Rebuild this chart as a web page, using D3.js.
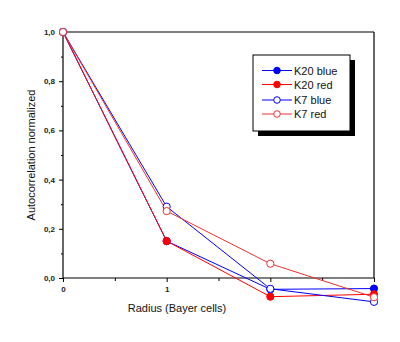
<!DOCTYPE html>
<html><head><meta charset="utf-8">
<script src="https://cdn.jsdelivr.net/npm/d3@7"></script>
<style>body{margin:0;background:#fff;} svg{display:block;font-family:Arial,"Liberation Sans",sans-serif;}</style>
</head><body>
<svg id="c" width="400" height="342"></svg>
<script>
const radius = [0, 1, 2, 3];
const k20Blue = [1.0, 0.15, -0.046, -0.043];
const k20Red = [1.0, 0.15, -0.076, -0.066];
const k7Blue = [1.0, 0.29, -0.044, -0.097];
const k7Red = [1.0, 0.272, 0.058, -0.078];
const seriesNames = ["K20 blue", "K20 red", "K7 blue", "K7 red"];
const xTicks = [0, 1, 2, 3];
const yTicks = [0, 0.2, 0.4, 0.6, 0.8, 1.0];

const series = [
  {name: seriesNames[0], values: k20Blue, color: "#0000ff", filled: true},
  {name: seriesNames[1], values: k20Red, color: "#ff0000", filled: true},
  {name: seriesNames[2], values: k7Blue, color: "#0000ff", filled: false},
  {name: seriesNames[3], values: k7Red, color: "#f03030", filled: false}
];

const svg = d3.select("#c");
const x = d3.scaleLinear().domain([0, 3]).range([63, 374]);
const y = d3.scaleLinear().domain([0, 1]).range([278, 32]);
const fmt = d => d3.format(".1f")(d).replace(".", ",");

// frame top & right
svg.append("line").attr("x1", x(0)).attr("x2", x(3)).attr("y1", y(1)).attr("y2", y(1)).attr("stroke", "#000").attr("stroke-width", 1.2);
svg.append("line").attr("x1", x(3)).attr("x2", x(3)).attr("y1", y(1)).attr("y2", y(0)).attr("stroke", "#000").attr("stroke-width", 1.2);

// minor ticks
const gx = svg.append("g").attr("transform", `translate(0,${y(0)})`);
gx.call(d3.axisBottom(x).tickValues([0.5, 1.5, 2.5]).tickSize(3).tickFormat(""));
gx.call(g => g.select(".domain").remove());
const gxm = svg.append("g").attr("transform", `translate(0,${y(0)})`)
  .call(d3.axisBottom(x).tickValues(xTicks).tickSize(4).tickPadding(4).tickFormat(d3.format("d")));
gxm.select(".domain").attr("d", `M${x(0)},0H${x(3)}`).attr("stroke-width", 1.2);
gxm.selectAll("text").attr("font-size", 8).attr("font-weight", "bold").attr("fill", "#222");

const gy = svg.append("g").attr("transform", `translate(${x(0)},0)`);
gy.call(d3.axisLeft(y).tickValues([0.1, 0.3, 0.5, 0.7, 0.9]).tickSize(2).tickFormat(""));
gy.call(g => g.select(".domain").remove());
const gym = svg.append("g").attr("transform", `translate(${x(0)},0)`)
  .call(d3.axisLeft(y).tickValues(yTicks).tickSize(4).tickPadding(4).tickFormat(fmt));
gym.select(".domain").attr("d", `M0,${y(0)}V${y(1)}`).attr("stroke-width", 1.2);
gym.selectAll("text").attr("font-size", 8).attr("font-weight", "bold").attr("fill", "#222");

// axis titles
svg.append("text").attr("x", 177).attr("y", 312).attr("text-anchor", "middle").attr("font-size", 11).attr("fill", "#111").text("Radius (Bayer cells)");
svg.append("text").attr("transform", "translate(35,155) rotate(-90)").attr("text-anchor", "middle").attr("font-size", 11).attr("fill", "#111").text("Autocorrelation normalized");

// series
const line = d3.line().x((d, i) => x(radius[i])).y(d => y(d));
series.forEach(s => {
  svg.append("path").datum(s.values).attr("d", line).attr("fill", "none").attr("stroke", s.color).attr("stroke-width", 1);
});
series.forEach(s => {
  svg.selectAll(null).data(s.values).enter().append("circle")
    .attr("cx", (d, i) => x(radius[i])).attr("cy", d => y(d)).attr("r", 3.6)
    .attr("fill", s.filled ? s.color : "#fff").attr("stroke", s.color).attr("stroke-width", 1);
});

// legend
const lg = svg.append("g");
lg.append("rect").attr("x", 258).attr("y", 60).attr("width", 97).attr("height", 76).attr("fill", "#000");
lg.append("rect").attr("x", 253).attr("y", 55).attr("width", 97).attr("height", 76).attr("fill", "#fff").attr("stroke", "#000").attr("stroke-width", 1);
const rowY = [70.5, 84.5, 100, 114];
series.forEach((s, i) => {
  lg.append("line").attr("x1", 262).attr("x2", 292).attr("y1", rowY[i]).attr("y2", rowY[i]).attr("stroke", s.color).attr("stroke-width", 1);
  lg.append("circle").attr("cx", 277).attr("cy", rowY[i]).attr("r", 3.3).attr("fill", s.filled ? s.color : "#fff").attr("stroke", s.color);
  lg.append("text").attr("x", 294).attr("y", rowY[i] + 4).attr("font-size", 11).attr("fill", "#111").text(s.name);
});
</script>
</body></html>
